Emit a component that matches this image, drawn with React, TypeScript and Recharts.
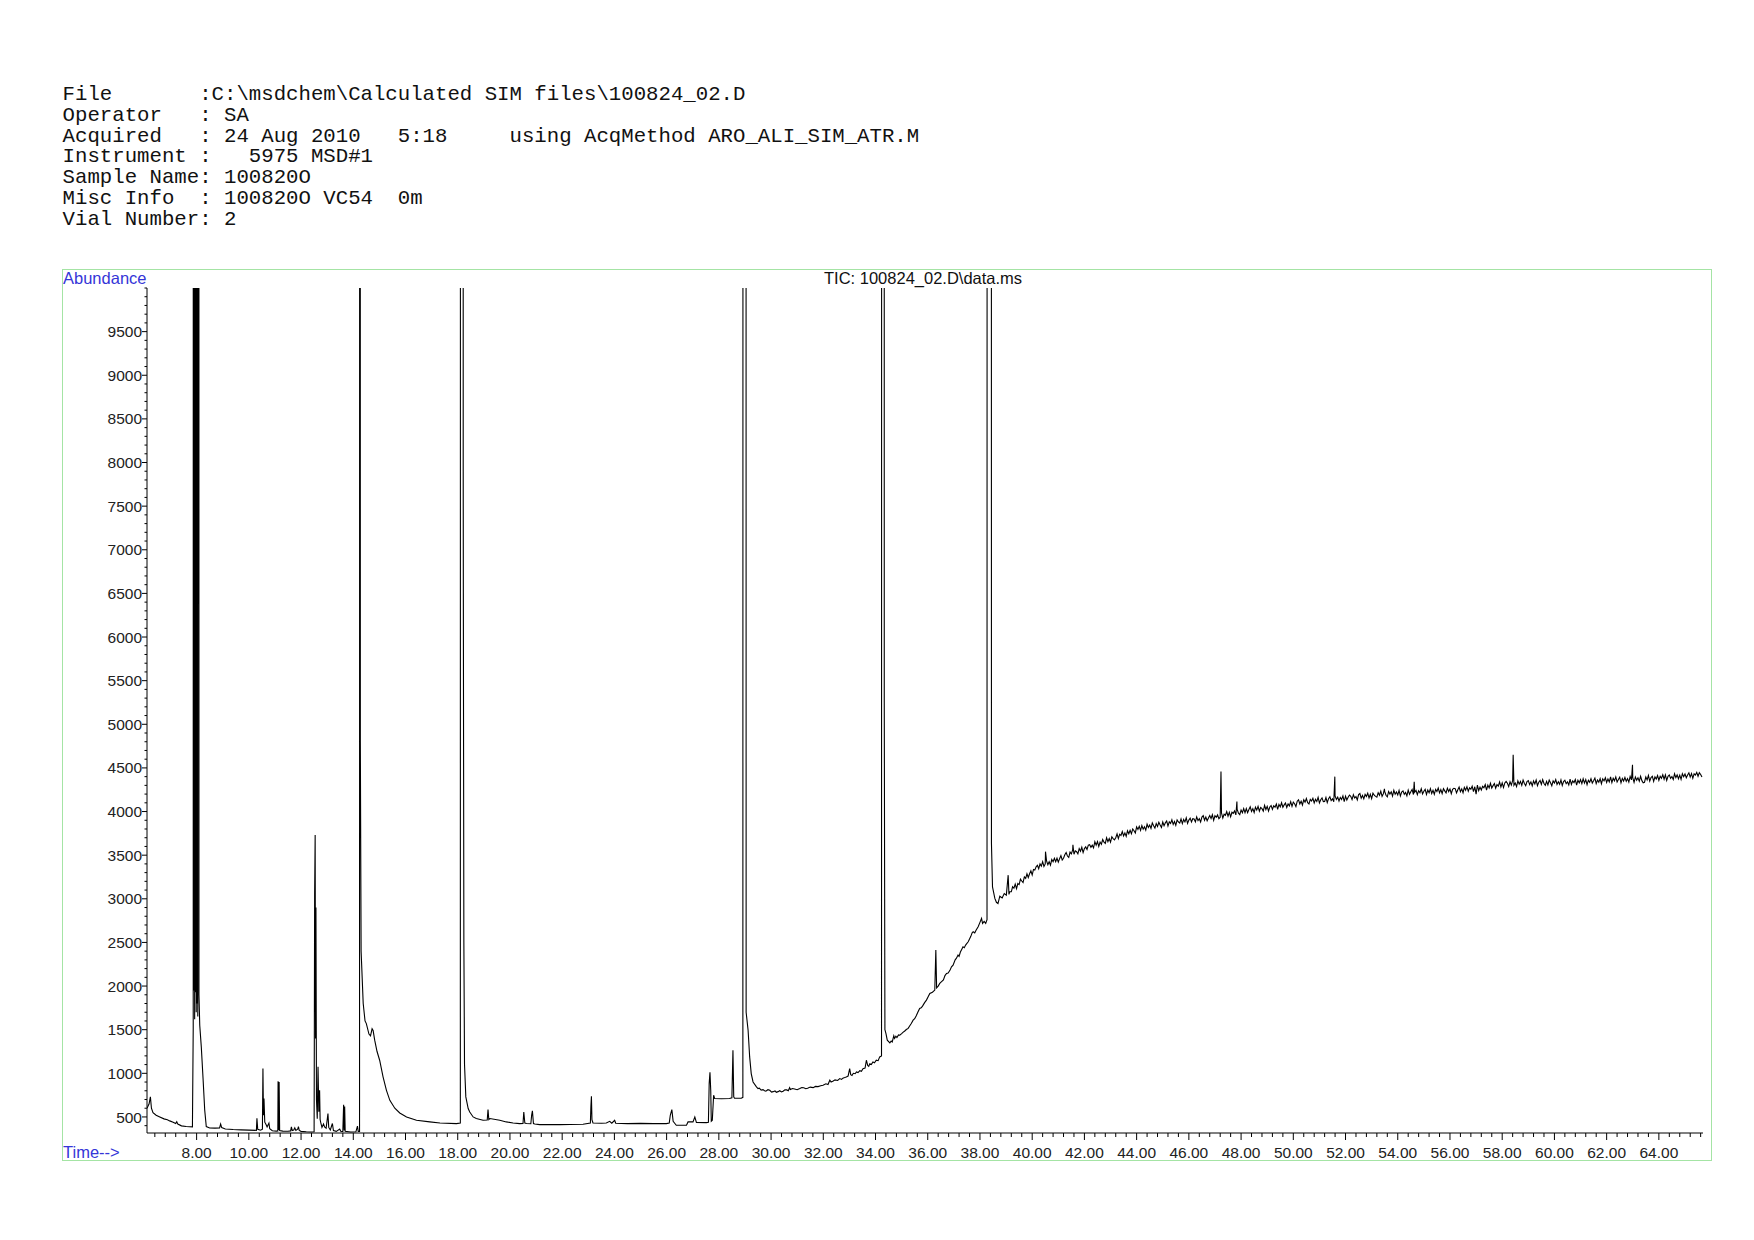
import { Line, LineChart, XAxis, YAxis } from 'recharts'

const headerLines = [
  'File       :C:\\msdchem\\Calculated SIM files\\100824_02.D',
  'Operator   : SA',
  'Acquired   : 24 Aug 2010   5:18     using AcqMethod ARO_ALI_SIM_ATR.M',
  'Instrument :   5975 MSD#1',
  'Sample Name: 100820O',
  'Misc Info  : 100820O VC54  0m',
  'Vial Number: 2',
]

const plotTitle = 'TIC: 100824_02.D\\data.ms'

// y labels every 500, minor marks every 100
const yLabels = [500, 1000, 1500, 2000, 2500, 3000, 3500, 4000, 4500, 5000, 5500, 6000, 6500, 7000, 7500, 8000, 8500, 9000, 9500]
// x labels every 2 min, minor marks every 0.4 min
const xLabels = [8, 10, 12, 14, 16, 18, 20, 22, 24, 26, 28, 30, 32, 34, 36, 38, 40, 42, 44, 46, 48, 50, 52, 54, 56, 58, 60, 62, 64]

// [retention time (min), abundance]; off-scale peaks are given as 60000
const earlyTic = [
  [6.1, 600], [6.18, 650], [6.23, 730], [6.27, 600], [6.33, 550], [6.45, 520], [6.59, 500], [6.75, 478],
  [6.88, 468], [6.97, 455], [7.1, 440], [7.2, 425], [7.24, 445], [7.28, 418], [7.42, 398], [7.6, 390],
  [7.84, 386], [7.87, 1515], [7.88, 60000], [7.895, 1950], [7.91, 60000], [7.925, 1620], [7.94, 60000],
  [7.955, 1930], [7.97, 60000], [7.985, 1700], [8.0, 60000], [8.015, 1800], [8.03, 60000], [8.045, 1650],
  [8.06, 60000], [8.08, 60000], [8.09, 1900], [8.12, 1550], [8.18, 1300], [8.25, 920], [8.31, 580],
  [8.37, 390], [8.5, 374], [8.7, 372], [8.88, 374], [8.92, 418], [8.96, 378], [9.1, 362], [9.4, 356],
  [9.7, 352], [10.0, 349], [10.29, 346], [10.31, 485], [10.34, 358], [10.45, 348], [10.52, 360],
  [10.54, 1055], [10.56, 520], [10.58, 710], [10.61, 440], [10.65, 420], [10.7, 385], [10.77, 430],
  [10.8, 365], [10.9, 342], [11.05, 338], [11.11, 340], [11.12, 910], [11.14, 350], [11.16, 900],
  [11.18, 345], [11.3, 338], [11.5, 336], [11.6, 340], [11.63, 385], [11.66, 345], [11.72, 350],
  [11.76, 375], [11.8, 345], [11.87, 360], [11.9, 390], [11.93, 345], [12.0, 335], [12.2, 330],
  [12.4, 328], [12.5, 330], [12.52, 3050], [12.54, 3730], [12.555, 1400], [12.57, 2900], [12.59, 700],
  [12.62, 480], [12.65, 1075], [12.68, 560], [12.71, 806], [12.73, 470], [12.75, 440], [12.8, 380],
  [12.86, 420], [12.9, 385], [12.96, 370], [13.03, 540], [13.06, 380], [13.12, 350], [13.2, 425],
  [13.24, 345], [13.35, 335], [13.48, 360], [13.52, 335], [13.6, 332], [13.63, 640], [13.65, 345],
  [13.67, 620], [13.69, 335], [13.9, 328], [14.1, 330], [14.16, 395], [14.19, 335], [14.24, 335],
]

const midTic = [
  [14.255, 60000], [14.27, 4800], [14.3, 2400], [14.38, 1800], [14.45, 1600], [14.5, 1570], [14.6, 1450],
  [14.66, 1430], [14.72, 1510], [14.76, 1490], [14.82, 1380], [14.91, 1250], [15.01, 1150], [15.14, 960],
  [15.27, 805], [15.4, 690], [15.59, 600], [15.78, 545], [16.04, 500], [16.42, 462], [16.93, 443],
  [17.32, 431], [17.95, 424], [18.1, 430], [18.115, 60000], [18.2, 60000], [18.21, 7900], [18.215, 6500],
  [18.235, 2500], [18.26, 1100], [18.31, 730], [18.4, 596], [18.46, 557], [18.59, 500], [18.71, 482],
  [18.97, 462], [19.13, 465], [19.16, 585], [19.19, 470], [19.23, 482], [19.61, 462], [19.86, 443],
  [20.12, 431], [20.37, 424], [20.5, 425], [20.53, 557], [20.57, 430], [20.63, 424], [20.8, 422],
  [20.83, 520], [20.86, 570], [20.9, 425], [20.95, 420], [21.14, 412], [21.5, 412], [21.91, 412],
  [22.3, 414], [22.8, 416], [23.08, 430], [23.1, 620], [23.12, 737], [23.14, 470], [23.18, 431],
  [23.5, 428], [23.69, 431], [23.82, 450], [23.9, 428], [24.01, 462], [24.05, 428], [24.5, 424],
  [25.0, 426], [25.5, 423], [25.99, 424], [26.1, 430], [26.14, 519], [26.2, 584], [26.25, 450],
  [26.37, 405], [26.76, 405], [26.82, 443], [27.01, 443], [27.08, 500], [27.14, 438], [27.52, 435],
  [27.6, 440], [27.63, 882], [27.66, 1012], [27.69, 800], [27.71, 450], [27.75, 462], [27.8, 749],
  [27.84, 711], [28.1, 708], [28.41, 712], [28.5, 720], [28.54, 1265], [28.57, 730], [28.6, 715],
  [28.86, 715], [28.92, 725], [28.935, 60000], [29.03, 60000], [29.045, 1700], [29.12, 1494],
  [29.18, 1188], [29.24, 997], [29.31, 901], [29.44, 844], [29.5, 825], [29.55, 830], [29.62, 808],
  [29.69, 813], [29.75, 800], [29.8, 795], [29.88, 812], [29.95, 806], [30.02, 785], [30.08, 790],
  [30.15, 798], [30.2, 783], [30.27, 790], [30.33, 800], [30.4, 786], [30.46, 794], [30.53, 812],
  [30.6, 810], [30.66, 800], [30.71, 835], [30.74, 815], [30.82, 826], [30.9, 820], [31.0, 812],
  [31.1, 825], [31.18, 838], [31.25, 835], [31.33, 824], [31.4, 828], [31.5, 842], [31.61, 836],
  [31.7, 850], [31.8, 848], [31.9, 858], [31.99, 863], [32.1, 880], [32.18, 872], [32.25, 921],
  [32.3, 900], [32.38, 912], [32.45, 925], [32.55, 918], [32.63, 940], [32.7, 930], [32.75, 945],
  [32.82, 952], [32.88, 959], [32.95, 968], [33.01, 1054], [33.05, 985], [33.1, 975], [33.15, 1000],
  [33.22, 995], [33.27, 1016], [33.33, 1008], [33.4, 1030], [33.46, 1024], [33.52, 1054], [33.6, 1060],
  [33.65, 1150], [33.7, 1090], [33.74, 1080], [33.78, 1110], [33.84, 1100], [33.9, 1130], [33.96, 1120],
  [34.03, 1150], [34.1, 1145], [34.16, 1188], [34.23, 1200],
]

const riseTic = [
  [34.25, 60000], [34.33, 60000], [34.335, 5250], [34.36, 1500], [34.4, 1456], [34.45, 1380],
  [34.55, 1349], [34.6, 1370], [34.64, 1360], [34.7, 1430], [34.73, 1400], [34.78, 1425], [34.82, 1410],
  [34.88, 1440], [34.93, 1437], [35.0, 1455], [35.05, 1470], [35.12, 1485], [35.18, 1502], [35.25, 1515],
  [35.3, 1540], [35.37, 1570], [35.44, 1609], [35.5, 1625], [35.56, 1660], [35.62, 1700], [35.69, 1743],
  [35.75, 1750], [35.8, 1770], [35.88, 1810], [35.95, 1839], [36.02, 1880], [36.08, 1915], [36.18, 1930],
  [36.27, 1954], [36.31, 2412], [36.34, 1980], [36.4, 2000], [36.46, 2030], [36.53, 2050], [36.6, 2070],
  [36.66, 2120], [36.72, 2145], [36.78, 2150], [36.85, 2180], [36.91, 2220], [36.97, 2240], [37.05, 2300],
  [37.1, 2320], [37.16, 2355], [37.2, 2340], [37.25, 2390], [37.3, 2420], [37.35, 2450], [37.4, 2440],
  [37.45, 2470], [37.5, 2490], [37.55, 2508], [37.6, 2540], [37.65, 2570], [37.7, 2610], [37.74, 2623],
  [37.8, 2610], [37.85, 2640], [37.93, 2680], [38.0, 2730], [38.06, 2776], [38.1, 2718], [38.16, 2740],
  [38.22, 2718], [38.27, 2760], [38.29, 60000], [38.42, 60000], [38.44, 3634], [38.48, 3137],
  [38.57, 3004], [38.63, 2960], [38.69, 2946], [38.76, 3030], [38.85, 3010], [38.93, 3060], [39.01, 3042],
  [39.08, 3271], [39.11, 3050], [39.14, 3080],
]

// noisy late baseline, sampled every 0.05 min from 39.2 (one row per minute)
const lateStart = 39.2
const lateStep = 0.05
const lateTic = [
  3080, 3138, 3121, 3169, 3117, 3175, 3163, 3226, 3204, 3187, 3250, 3233, 3286, 3244, 3287, 3320, 3273, 3336, 3329, 3367,
  3385, 3345, 3400, 3375, 3425, 3370, 3400, 3435, 3390, 3425, 3385, 3450, 3425, 3465, 3425, 3465, 3420, 3460, 3495, 3445,
  3465, 3505, 3530, 3490, 3475, 3535, 3515, 3560, 3510, 3550, 3540, 3515, 3575, 3545, 3590, 3530, 3575, 3595, 3565, 3615,
  3620, 3590, 3615, 3585, 3655, 3615, 3655, 3600, 3650, 3625, 3680, 3650, 3635, 3700, 3655, 3690, 3650, 3710, 3690, 3675,
  3700, 3745, 3690, 3740, 3725, 3770, 3720, 3755, 3715, 3780, 3745, 3785, 3745, 3800, 3780, 3755, 3825, 3795, 3830, 3785,
  3840, 3797, 3825, 3787, 3855, 3817, 3845, 3807, 3870, 3837, 3810, 3862, 3830, 3877, 3845, 3817, 3880, 3837, 3870, 3892,
  3835, 3882, 3864, 3906, 3853, 3885, 3842, 3904, 3881, 3868, 3915, 3862, 3909, 3881, 3928, 3865, 3902, 3924, 3881, 3918,
  3915, 3882, 3939, 3896, 3918, 3880, 3937, 3954, 3901, 3938, 3895, 3927, 3954, 3921, 3963, 3900, 3952, 3934, 3961, 3918,
  3935, 3983, 3926, 3969, 3957, 4000, 3948, 3991, 3939, 3992, 3980, 4008, 3961, 4024, 3982, 3965, 4018, 3986, 4034, 3987,
  4035, 3987, 4023, 4055, 4001, 4033, 3989, 4051, 4017, 4059, 4005, 4047, 4033, 4005, 4071, 4023, 4059, 4006, 4052, 4069,
  4025, 4067, 4050, 4087, 4024, 4082, 4054, 4101, 4049, 4076, 4098, 4046, 4088, 4065, 4113, 4060, 4107, 4090, 4057, 4119,
  4135, 4087, 4118, 4075, 4136, 4108, 4149, 4101, 4087, 4139, 4120, 4152, 4098, 4140, 4116, 4163, 4099, 4136, 4157, 4114,
  4115, 4161, 4102, 4148, 4169, 4125, 4146, 4112, 4178, 4139, 4165, 4121, 4162, 4138, 4179, 4115, 4176, 4132, 4163, 4189,
  4175, 4137, 4193, 4155, 4171, 4133, 4194, 4206, 4152, 4184, 4145, 4197, 4173, 4210, 4156, 4198, 4149, 4211, 4187, 4174,
  4165, 4216, 4187, 4233, 4174, 4205, 4231, 4187, 4168, 4229, 4200, 4226, 4177, 4243, 4199, 4225, 4191, 4242, 4178, 4224,
  4237, 4198, 4219, 4180, 4246, 4197, 4228, 4254, 4195, 4221, 4242, 4193, 4239, 4215, 4261, 4202, 4233, 4254, 4195, 4246,
  4216, 4262, 4207, 4243, 4198, 4254, 4229, 4270, 4215, 4251, 4206, 4262, 4237, 4213, 4268, 4229, 4259, 4205, 4255, 4266,
  4262, 4213, 4250, 4281, 4228, 4259, 4216, 4277, 4244, 4285, 4232, 4273, 4255, 4291, 4228, 4284, 4200, 4302, 4239, 4280,
  4247, 4289, 4272, 4309, 4246, 4303, 4271, 4323, 4270, 4297, 4320, 4267, 4309, 4291, 4339, 4281, 4328, 4275, 4328, 4345,
  4325, 4286, 4342, 4303, 4354, 4300, 4326, 4286, 4352, 4313, 4344, 4300, 4361, 4321, 4297, 4343, 4354, 4309, 4340, 4295,
  4351, 4316, 4361, 4296, 4336, 4356, 4311, 4366, 4321, 4301, 4346, 4306, 4361, 4331, 4296, 4351, 4326, 4366, 4311, 4341,
  4312, 4362, 4298, 4343, 4359, 4319, 4340, 4305, 4371, 4311, 4352, 4332, 4368, 4303, 4359, 4329, 4365, 4320, 4376, 4326,
  4367, 4308, 4359, 4335, 4376, 4327, 4353, 4384, 4320, 4361, 4337, 4378, 4319, 4375, 4351, 4387, 4333, 4374, 4340, 4396,
  4331, 4381, 4352, 4397, 4338, 4368, 4394, 4329, 4380, 4350, 4391, 4346, 4377, 4337, 4403, 4363, 4389, 4334, 4395, 4360,
  4387, 4348, 4404, 4354, 4330, 4336, 4397, 4362, 4413, 4349, 4390, 4405, 4346, 4397, 4373, 4413, 4359, 4405, 4381, 4422,
  4370, 4421, 4357, 4403, 4419, 4380, 4401, 4367, 4433, 4389, 4420, 4376, 4417, 4368, 4434, 4400, 4431, 4387, 4418, 4444,
  4395, 4436, 4381, 4432, 4418, 4449, 4404, 4445, 4425, 4395,
]

const lateSpikes = [
  [40.51, 3540], [41.56, 3618], [47.23, 4460], [47.84, 4115], [51.59, 4400], [53.49, 4260],
  [54.63, 4340], [58.42, 4650], [62.99, 4535],
]

const rows = [
  ...earlyTic,
  ...midTic,
  ...riseTic,
  ...lateTic.map((v, i) => [Math.round((lateStart + i * lateStep) * 1000) / 1000, v]),
  ...lateSpikes,
]
  .sort((a, b) => a[0] - b[0])
  .map(([t, v]) => ({ t, v }))

const yTicks = Array.from({ length: 97 }, (_, i) => 400 + i * 100)
const xTicks = Array.from({ length: 149 }, (_, i) => Math.round((6.4 + i * 0.4) * 10) / 10)

const sans = '"Liberation Sans", Arial, sans-serif'
const blue = '#3535d8'

function XTick({ x, y, payload }: any) {
  const val = payload.value
  const major = xLabels.includes(val)
  return (
    <g>
      <line x1={x} y1={y} x2={x} y2={y + (major ? 7 : 4)} stroke="#000" />
      {major && (
        <text x={x} y={y + 24.5} textAnchor="middle" fontSize={15.5} fontFamily={sans} fill="#222">
          {val.toFixed(2)}
        </text>
      )}
    </g>
  )
}

function YTick({ x, y, payload }: any) {
  const val = payload.value
  const major = yLabels.includes(val)
  return (
    <g>
      <line x1={x - (major ? 5 : 2.5)} y1={y} x2={x} y2={y} stroke="#000" />
      {major && (
        <text x={x - 5} y={y} dy="0.36em" textAnchor="end" fontSize={15.5} fontFamily={sans} fill="#222">
          {val}
        </text>
      )}
    </g>
  )
}

export default function App() {
  return (
    <div style={{ position: 'absolute', left: 0, top: 0, width: 1754, height: 1240, background: '#fff' }}>
      <pre
        style={{
          position: 'absolute',
          left: 62.6,
          top: 84.7,
          margin: 0,
          fontFamily: '"Liberation Mono", "Courier New", monospace',
          fontSize: 20.7,
          lineHeight: '20.9px',
          color: '#111',
        }}
      >
        {headerLines.join('\n')}
      </pre>

      <div
        style={{
          position: 'absolute',
          left: 61.5,
          top: 268.5,
          width: 1650,
          height: 892,
          border: '1.5px solid #a4e4a4',
          boxSizing: 'border-box',
        }}
      />

      <div style={{ position: 'absolute', left: 0, top: 0 }}>
        <LineChart width={1754} height={1240} data={rows} margin={{ top: 288, right: 51, bottom: 77, left: 0 }}>
          <XAxis
            dataKey="t"
            type="number"
            domain={[6.1, 65.69]}
            allowDataOverflow
            ticks={xTicks}
            interval={0}
            tickSize={0}
            tickMargin={0}
            height={30}
            axisLine={{ stroke: '#000' }}
            tickLine={false}
            tick={<XTick />}
          />
          <YAxis
            type="number"
            domain={[316, 10000]}
            allowDataOverflow
            ticks={yTicks}
            interval={0}
            tickSize={0}
            tickMargin={0}
            width={147}
            axisLine={{ stroke: '#000' }}
            tickLine={false}
            tick={<YTick />}
          />
          <Line
            dataKey="v"
            type="linear"
            stroke="#000"
            strokeWidth={1.1}
            dot={false}
            isAnimationActive={false}
          />
        </LineChart>
      </div>

      <div style={{ position: 'absolute', left: 63, top: 269, fontFamily: sans, fontSize: 16.5, color: blue, lineHeight: '18px' }}>
        Abundance
      </div>
      <div style={{ position: 'absolute', left: 824, top: 269, fontFamily: sans, fontSize: 16.5, color: '#111', lineHeight: '18px' }}>
        {plotTitle}
      </div>
      <div style={{ position: 'absolute', left: 63, top: 1142.5, fontFamily: sans, fontSize: 16.5, color: blue, lineHeight: '18px' }}>
        Time--&gt;
      </div>
    </div>
  )
}
